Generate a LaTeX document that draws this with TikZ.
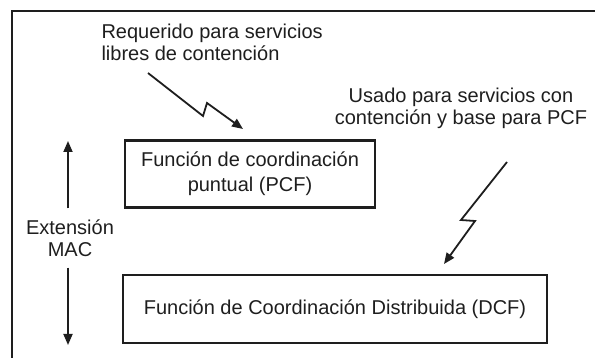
\documentclass[tikz,border=0pt]{standalone}
\usepackage{fontspec}
\setmainfont{Liberation Sans}
\usetikzlibrary{arrows.meta}
\definecolor{ink}{RGB}{30,30,30}

\begin{document}
\begin{tikzpicture}[x=1pt,y=-1pt,>={Triangle[length=11pt,width=9pt]},
    every node/.style={text=ink,font=\fontsize{20}{22}\selectfont},
    box/.style={draw=ink,line width=2.3pt,inner sep=0pt},
    bolt/.style={->,draw=ink,line width=1.8pt}]
    \useasboundingbox (0,0) rectangle (595,358);
    % frame
    \draw[ink,line width=2.3pt] (12,358) -- (12,11) -- (595,11);
    \node[align=left,anchor=west] (req) at (98,42) {Requerido para servicios\\libres de contención};
    \node[align=center] (usd) at (461,108) {Usado para servicios con\\contención y base para PCF};
    \node[box,align=center,minimum width=250pt,minimum height=67pt] (pcf) at (250,174) {Función de coordinación\\[3pt]puntual (PCF)};
    \node[box,minimum width=424pt,minimum height=68pt] (dcf) at (335,309) {Función de Coordinación Distribuida (DCF)};
    \node[align=center,inner ysep=11pt] (ext) at (70,238) {Extensión\\MAC};
    \coordinate (b1) at (148,73);
    \coordinate (b1t) at (243,129);
    \coordinate (b2) at (507,162);
    \coordinate (b2t) at (444,264);
    \coordinate (up) at (68,141);
    \coordinate (down) at (68,345);
    \draw[bolt] (b1) -- (203,116) -- (207,103) -- (b1t);
    \draw[bolt] (b2) -- (461,220) -- (475,221) -- (b2t);
    \draw[bolt] (ext.north -| up) -- (up);
    \draw[bolt] (ext.south -| down) -- (down);
\end{tikzpicture}
\end{document}
